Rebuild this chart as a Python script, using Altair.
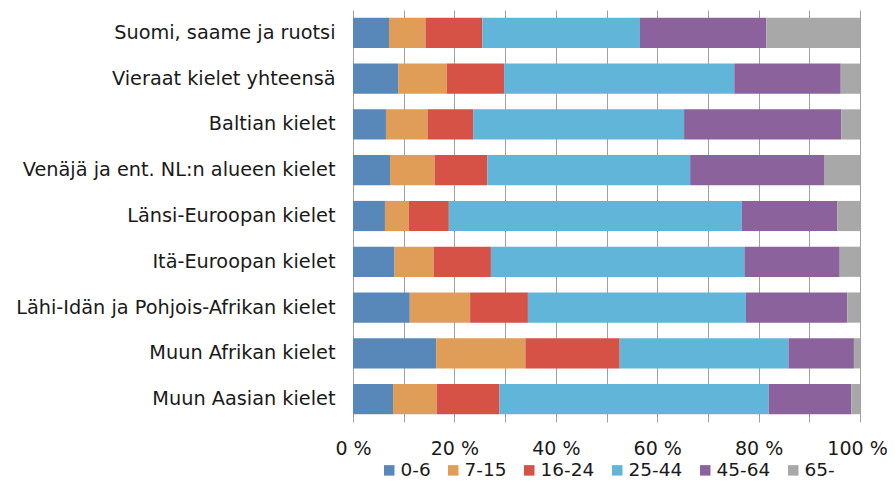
import altair as alt
import pandas as pd

categories = [
    "Suomi, saame ja ruotsi",
    "Vieraat kielet yhteensä",
    "Baltian kielet",
    "Venäjä ja ent. NL:n alueen kielet",
    "Länsi-Euroopan kielet",
    "Itä-Euroopan kielet",
    "Lähi-Idän ja Pohjois-Afrikan kielet",
    "Muun Afrikan kielet",
    "Muun Aasian kielet",
]

age_groups = ["0-6", "7-15", "16-24", "25-44", "45-64", "65-"]

age_0_6 = [7.1, 8.9, 6.5, 7.3, 6.3, 8.2, 11.2, 16.4, 7.9]
age_7_15 = [7.2, 9.6, 8.2, 8.8, 4.7, 7.7, 11.9, 17.6, 8.6]
age_16_24 = [11.2, 11.3, 9.0, 10.4, 7.9, 11.3, 11.4, 18.6, 12.4]
age_25_44 = [31.1, 45.4, 41.6, 40.0, 57.8, 50.0, 43.0, 33.3, 53.1]
age_45_64 = [24.9, 21.0, 31.0, 26.4, 18.8, 18.8, 20.0, 12.9, 16.3]
age_65 = [18.5, 3.8, 3.7, 7.1, 4.5, 4.0, 2.5, 1.2, 1.7]

colors = ["#5887b9", "#df9d57", "#d65146", "#61b5d9", "#8c629c", "#a8a8a8"]

series = [age_0_6, age_7_15, age_16_24, age_25_44, age_45_64, age_65]
rows = []
for gi, (g, vals) in enumerate(zip(age_groups, series)):
    for c, v in zip(categories, vals):
        rows.append({"kieli": c, "ikä": g, "osuus": v, "jarj": gi})
df = pd.DataFrame(rows)

FONT = "DejaVu Sans"

chart = (
    alt.Chart(df)
    .mark_bar()
    .encode(
        y=alt.Y(
            "kieli:N",
            sort=categories,
            title=None,
            scale=alt.Scale(paddingInner=0.34, paddingOuter=0.17),
            axis=alt.Axis(
                ticks=False,
                domain=False,
                labelFontSize=19.3,
                labelFont=FONT,
                labelColor="#1a1a1a",
                labelPadding=18,
                labelLimit=400,
            ),
        ),
        x=alt.X(
            "osuus:Q",
            stack="normalize",
            title=None,
            scale=alt.Scale(domain=[0, 1], nice=False),
            axis=alt.Axis(
                values=[i / 10 for i in range(11)],
                labelExpr="round(datum.value*100) % 20 == 0 ? round(datum.value*100) + ' %' : ''",
                labelOffset={"condition": {"test": "datum.value >= 1", "value": -3}, "value": 0},
                ticks=False,
                domain=False,
                grid=True,
                gridColor="#a0a0a0",
                gridWidth=1,
                labelFontSize=19,
                labelFont=FONT,
                labelColor="#1a1a1a",
                labelPadding=17,
                labelFlush=False,
                labelOverlap=False,
            ),
        ),
        color=alt.Color(
            "ikä:N",
            sort=age_groups,
            scale=alt.Scale(domain=age_groups, range=colors),
            legend=alt.Legend(
                title=None,
                orient="none",
                direction="horizontal",
                legendX=27,
                legendY=451,
                symbolType="square",
                symbolSize=110,
                symbolStrokeWidth=0,
                labelFontSize=18.5,
                labelFont=FONT,
                labelColor="#1a1a1a",
                labelOffset=2,
                columnPadding=13,
                padding=0,
            ),
        ),
        order=alt.Order("jarj:Q", sort="ascending"),
    )
    .properties(
        width=507,
        height=412,
        autosize=alt.AutoSizeParams(type="none"),
        padding={"left": 345, "top": 2, "right": 27, "bottom": 59},
    )
    .configure_view(stroke=None)
)

chart.save("out.html", embed_options={"renderer": "svg", "actions": False})
